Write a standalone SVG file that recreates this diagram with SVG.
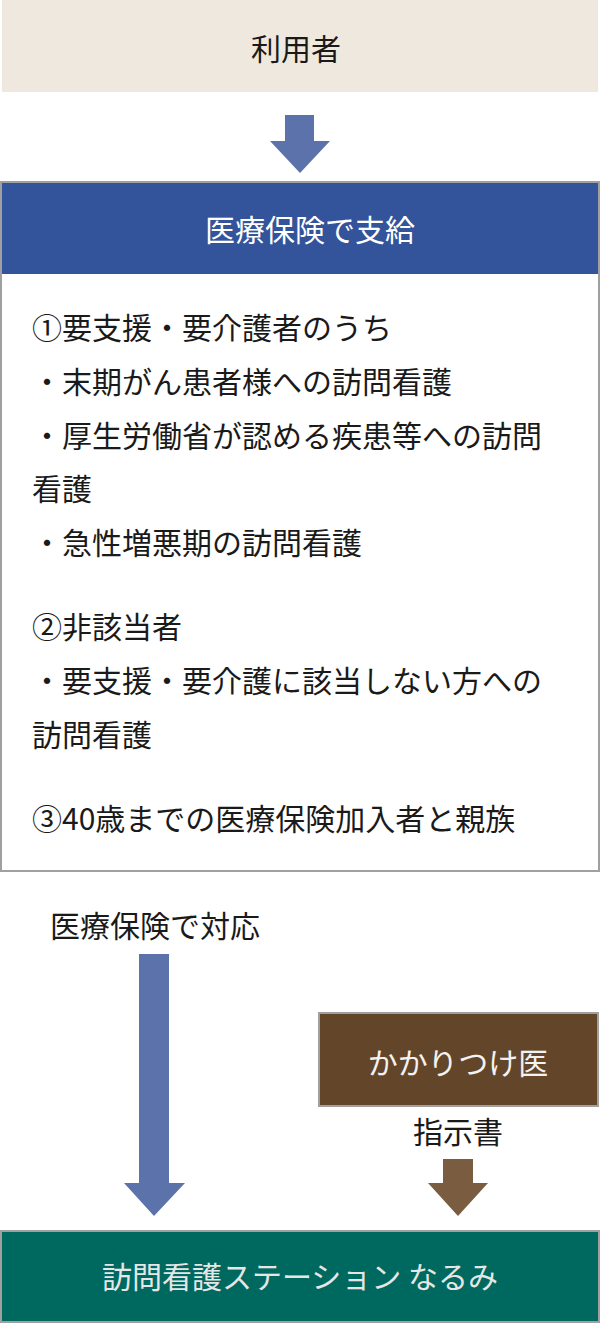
<svg xmlns="http://www.w3.org/2000/svg" width="600" height="1324" viewBox="0 0 600 1324">
<style>
  text { font-family: "Noto Sans CJK JP", "Noto Sans", sans-serif; font-size: 30px; }
  .dark { fill: #1a1a1a; }
  .light { fill: #ffffff; }
  .mid { text-anchor: middle; }
  .frame { stroke: #a0a0a0; stroke-width: 2; }
</style>
<rect width="600" height="1324" fill="#ffffff"/>
<g id="user">
  <rect x="2" y="0" width="596" height="92" fill="#EFE8DF"/>
  <text class="dark mid" x="296" y="60">利用者</text>
</g>
<g id="medical">
  <rect class="frame" x="1" y="182" width="598" height="689" fill="#ffffff"/>
  <rect x="2" y="183" width="596" height="91" fill="#33539A"/>
  <text class="light mid" x="310" y="241">医療保険で支給</text>
  <g class="dark">
    <text x="32" y="339">①要支援・要介護者のうち</text>
    <text x="32" y="393">・末期がん患者様への訪問看護</text>
    <text x="32" y="447">・厚生労働省が認める疾患等への訪問</text>
    <text x="32" y="500">看護</text>
    <text x="32" y="554">・急性増悪期の訪問看護</text>
    <text x="32" y="638">②非該当者</text>
    <text x="32" y="692">・要支援・要介護に該当しない方への</text>
    <text x="32" y="746">訪問看護</text>
    <text x="32" y="830">③40歳までの医療保険加入者と親族</text>
  </g>
</g>
<g id="doctor">
  <rect class="frame" x="319" y="1013" width="279" height="93" fill="#634529"/>
  <text class="mid" x="458" y="1074" fill="#f2f2f2">かかりつけ医</text>
</g>
<g id="station">
  <rect class="frame" x="1" y="1231" width="598" height="91" fill="#00695F"/>
  <text class="mid" x="300" y="1288" fill="#e6e6e6">訪問看護ステーション なるみ</text>
</g>
<g id="connectors">
  <polygon points="285,115 314,115 314,141 330,141 300,173 270,141 285,141" fill="#5B73AA"/>
  <text class="dark mid" x="155" y="937">医療保険で対応</text>
  <polygon points="139,954 169,954 169,1183 185,1183 154,1216 124,1183 139,1183" fill="#5B73AA"/>
  <text class="dark mid" x="458" y="1143">指示書</text>
  <polygon points="443,1159 473,1159 473,1183 488,1183 458,1216 428,1183 443,1183" fill="#7A5D40"/>
</g>
</svg>
